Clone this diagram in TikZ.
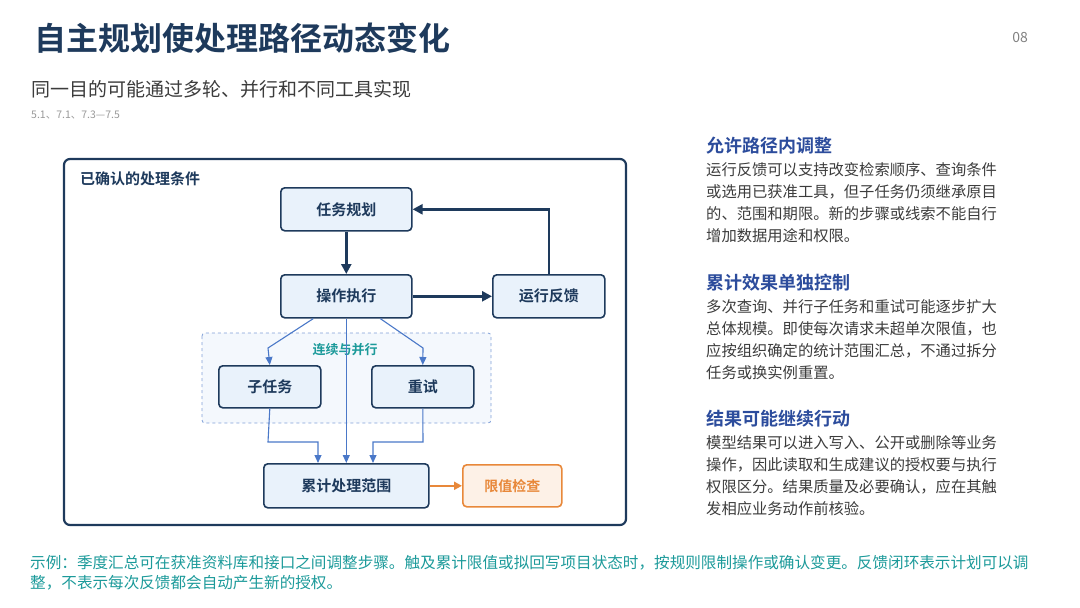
\documentclass[tikz,border=0pt]{standalone}
\usepackage{fontspec}
\setmainfont{Noto Sans CJK SC}
\newfontfamily\cjkbold{Noto Sans CJK SC Bold}
\usetikzlibrary{arrows.meta}
\definecolor{navy}{HTML}{1E3A5C}
\definecolor{boxfill}{HTML}{E9F2FB}
\definecolor{flowblue}{HTML}{4A78C8}
\definecolor{teal}{HTML}{1C9A9A}
\definecolor{orangeline}{HTML}{E8883A}
\definecolor{orangefill}{HTML}{FDF1E7}
\definecolor{headblue}{HTML}{2C4C9C}
\definecolor{bodygray}{HTML}{3C3C3C}
\begin{document}
\begin{tikzpicture}
[x=1pt,y=-1pt,
 stage/.style={draw=navy,line width=1.6pt,rounded corners=4pt,fill=boxfill,
   text=navy,font=\cjkbold\fontsize{15}{15}\selectfont,anchor=north west,
   inner sep=0pt},
 main/.style={navy,line width=2.4pt,-{Triangle[length=10pt,width=10pt]}},
 flow/.style={flowblue,line width=1.1pt,-{Triangle[length=8pt,width=7pt]}},
 head/.style={anchor=west,text=headblue,font=\cjkbold\fontsize{18}{18}\selectfont,inner sep=0pt},
 body/.style={anchor=north west,text=bodygray,align=left,inner sep=0pt,
   font=\fontsize{15.3}{22}\selectfont}]
\useasboundingbox (0,0) rectangle (1080,608);
% titles
\node[anchor=west,inner sep=0pt,text=navy,font=\cjkbold\fontsize{32}{32}\selectfont] (title) at (34,38) {自主规划使处理路径动态变化};
\node[anchor=east,inner sep=0pt,text=gray,font=\fontsize{14}{14}\selectfont] (page) at (1028,38) {08};
\node[anchor=west,inner sep=0pt,text=bodygray,font=\fontsize{19}{19}\selectfont] (sub) at (31,89) {同一目的可能通过多轮、并行和不同工具实现};
\node[anchor=west,inner sep=0pt,text=gray!80,font=\fontsize{10.5}{10.5}\selectfont] (refs) at (31,115) {5.1、7.1、7.3—7.5};
% frame
\draw[navy,line width=2.2pt,rounded corners=6pt] (64,159) rectangle (626,525);
\node[anchor=west,inner sep=0pt,text=navy,font=\cjkbold\fontsize{15}{15}\selectfont] (cond) at (80,179) {已确认的处理条件};
\draw[flowblue!70,dashed,line width=0.8pt,fill=boxfill!50,rounded corners=3pt] (202,333) rectangle (491,423);
\node[inner sep=0pt,text=teal,font=\cjkbold\fontsize{13}{13}\selectfont] (par) at (345,350) {连续与并行};
% boxes
\node[stage,minimum width=131pt,minimum height=43pt] (plan) at (280,187) {任务规划};
\node[stage,minimum width=131pt,minimum height=43pt] (exec) at (280,274) {操作执行};
\node[stage,minimum width=112pt,minimum height=43pt] (fb) at (492,274) {运行反馈};
\node[stage,minimum width=102pt,minimum height=42pt] (subt) at (218,365) {子任务};
\node[stage,minimum width=102pt,minimum height=42pt] (retry) at (371,365) {重试};
\node[stage,minimum width=165pt,minimum height=44pt] (scope) at (263,463) {累计处理范围};
\node[stage,draw=orangeline,fill=orangefill,text=orangeline,minimum width=99pt,minimum height=42pt,
  font=\cjkbold\fontsize{14}{14}\selectfont] (limit) at (462,464) {限值检查};
% connectors
\draw[main] (plan) -- (exec);
\draw[main] (exec) -- (fb);
\draw[main] (fb.north) |- (plan.east);
\draw[flow] (exec.south) ++(-33,0) coordinate (e1) -- (268,348) -- (subt.north);
\draw[flow] (exec.south) ++(34,0) coordinate (e2) -- (423,348) -- (retry.north);
\draw[flow] (exec.south) -- (scope.north);
\draw[flow] (subt.south) -- (268,442) -| (318,463);
\draw[flow] (retry.south) -- (423,442) -| (373,463);
\draw[orangeline,line width=2pt,-{Triangle[length=8pt,width=8pt]}] (scope) -- (limit);
% right column
\node[head] (h1) at (706,146) {允许路径内调整};
\node[body] (b1) at (706,162) {运行反馈可以支持改变检索顺序、查询条件\\或选用已获准工具，但子任务仍须继承原目\\的、范围和期限。新的步骤或线索不能自行\\增加数据用途和权限。};
\node[head] (h2) at (706,283) {累计效果单独控制};
\node[body] (b2) at (706,299) {多次查询、并行子任务和重试可能逐步扩大\\总体规模。即使每次请求未超单次限值，也\\应按组织确定的统计范围汇总，不通过拆分\\任务或换实例重置。};
\node[head] (h3) at (706,419) {结果可能继续行动};
\node[body] (b3) at (706,435) {模型结果可以进入写入、公开或删除等业务\\操作，因此读取和生成建议的授权要与执行\\权限区分。结果质量及必要确认，应在其触\\发相应业务动作前核验。};
% footer
\node[anchor=north west,inner sep=0pt,text=teal,align=left,font=\fontsize{15.6}{20.5}\selectfont] (note) at (30,555) {示例：季度汇总可在获准资料库和接口之间调整步骤。触及累计限值或拟回写项目状态时，按规则限制操作或确认变更。反馈闭环表示计划可以调\\整，不表示每次反馈都会自动产生新的授权。};
\end{tikzpicture}
\end{document}
